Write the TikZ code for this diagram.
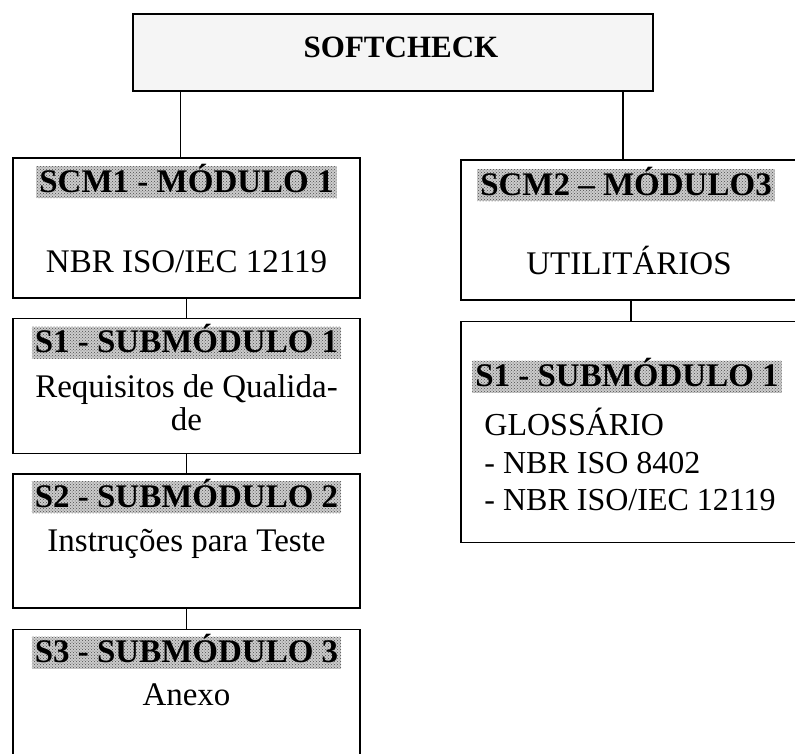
\documentclass[tikz,border=0pt]{standalone}
\usepackage{fontspec}
\setmainfont{Liberation Serif}
\usetikzlibrary{positioning,calc,patterns}
\tikzset{
	block/.style = {draw, line width=1.5pt, rectangle, minimum width=347pt, inner sep=0pt},
	rblock/.style = {block, minimum width=340pt},
	head/.style = {fill=gray!40, postaction={pattern=crosshatch dots, pattern color=gray!60!black}, inner xsep=3pt, inner ysep=2pt, text height=24pt, text depth=4pt, font=\bfseries\fontsize{33}{36}\selectfont},
	body/.style = {inner sep=0pt, font=\fontsize{33}{38}\selectfont},
	list/.style = {body, anchor=base west, font=\fontsize{32}{38}\selectfont},
	link/.style = {draw, line width=1.5pt}
}

\begin{document}
\begin{tikzpicture}[x=1pt,y=1pt]
	\useasboundingbox (0,0) rectangle (795,-753);
	% ========================== Nodes ============================
	% Main box
	\node [block, minimum width=520pt, minimum height=77pt, fill=gray!8] (soft) at (393,-52.5) {};
	\node [body, anchor=base, font=\bfseries\fontsize{31}{36}\selectfont] (softtxt) at ($(soft.north)+(8,-44)$) {SOFTCHECK};

	% Left column (module 1)
	\node [block, minimum height=140pt] (mod1) at (186.5,-228) {};
	\node [block, minimum height=135pt, below=19pt of mod1] (sub1) {};
	\node [block, minimum height=134pt, below=19pt of sub1] (sub2) {};
	\node [block, minimum height=140pt, below=20pt of sub2] (sub3) {};

	\node [head, anchor=base] (mod1head) at ($(mod1.north)+(0,-35)$) {SCM1 - MÓDULO 1};
	\node [body, anchor=base] (mod1txt) at ($(mod1.north)+(0,-115)$) {NBR ISO/IEC 12119};
	\node [head, anchor=base] (sub1head) at ($(sub1.north)+(0,-35)$) {S1 - SUBMÓDULO 1};
	\node [body, anchor=base] (sub1txta) at ($(sub1.north)+(0,-80)$) {Requisitos de Qualida-};
	\node [body, anchor=base] (sub1txtb) at ($(sub1.north)+(0,-113)$) {de};
	\node [head, anchor=base] (sub2head) at ($(sub2.north)+(0,-34)$) {S2 - SUBMÓDULO 2};
	\node [body, anchor=base] (sub2txt) at ($(sub2.north)+(0,-78)$) {Instruções para Teste};
	\node [head, anchor=base] (sub3head) at ($(sub3.north)+(0,-34)$) {S3 - SUBMÓDULO 3};
	\node [body, anchor=base] (sub3txt) at ($(sub3.north)+(0,-77)$) {Anexo};

	% Right column (module 3)
	\node [rblock, minimum height=140pt] (mod2) at (631,-230) {};
	\node [rblock, minimum height=221pt, below=20pt of mod2] (glos) {};

	\node [head, anchor=base] (mod2head) at ($(mod2.north)+(-5,-36)$) {SCM2 – MÓDULO3};
	\node [body, anchor=base] (mod2txt) at ($(mod2.north)+(-2,-115)$) {UTILITÁRIOS};
	\node [head, anchor=base] (gloshead) at ($(glos.north)+(-4,-66)$) {S1 - SUBMÓDULO 1};
	\node [list] (glostxta) at ($(glos.north west)+(24,-115)$) {GLOSSÁRIO};
	\node [list] (glostxtb) at ($(glos.north west)+(24,-153)$) {- NBR ISO 8402};
	\node [list] (glostxtc) at ($(glos.north west)+(24,-190)$) {- NBR ISO/IEC 12119};

	% ========================== Lines ============================
	\coordinate (lefttop) at ($(mod1.north)+(-6,0)$);
	\coordinate (righttop) at ($(mod2.north)+(-8,0)$);
	\draw [link] (lefttop |- soft.south) -- (lefttop);
	\draw [link] (righttop |- soft.south) -- (righttop);
	\draw [link] (mod1) -- (sub1);
	\draw [link] (sub1) -- (sub2);
	\draw [link] (sub2) -- (sub3);
	\draw [link] (mod2) -- (glos);
\end{tikzpicture}
\end{document}
